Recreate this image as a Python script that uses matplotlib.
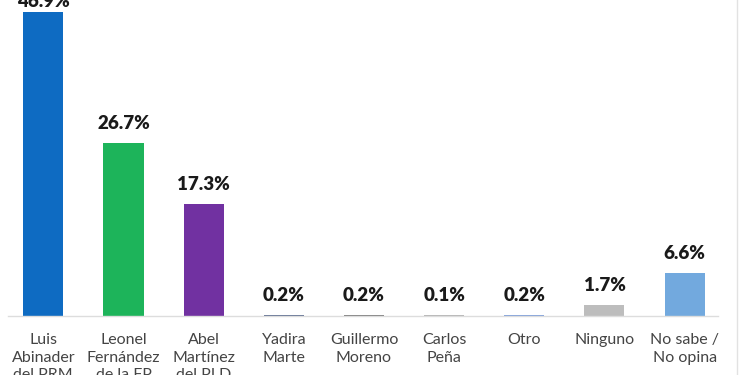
import matplotlib
matplotlib.use("Agg")
import matplotlib.pyplot as plt
from matplotlib.lines import Line2D

# Datos de la encuesta (%)
candidatos = [
    "Luis\nAbinader\ndel PRM",
    "Leonel\nFernández\nde la FP",
    "Abel\nMartínez\ndel PLD",
    "Yadira\nMarte",
    "Guillermo\nMoreno",
    "Carlos\nPeña",
    "Otro",
    "Ninguno",
    "No sabe /\nNo opina",
]
valores = [46.9, 26.7, 17.3, 0.2, 0.2, 0.1, 0.2, 1.7, 6.6]
colores = ["#0E6BC2", "#1DB45A", "#7131A1", "#5F6F92", "#7D7D7D",
           "#B3B3B3", "#7C9EDB", "#BDBDBD", "#72A9DE"]

plt.rcParams["font.family"] = ["Lato", "DejaVu Sans"]

fig = plt.figure(figsize=(7.5, 3.75), dpi=100)
ax = fig.add_axes([0.0107, 0.157, 0.947, 0.843])

x = list(range(len(valores)))
bars = ax.bar(x, valores, width=0.5, color=colores, zorder=2)

for xi, v in zip(x, valores):
    # la etiqueta del primer valor queda pegada al borde superior, como en el original
    off = 2 if xi == 0 else 8
    ax.annotate(f"{v}%", (xi, v), xytext=(0, off), textcoords="offset points",
                ha="center", va="bottom", fontsize=13.5, fontweight="heavy",
                color="#1a1a1a", annotation_clip=False, clip_on=False)

ax.set_xlim(-0.44, 8.42)
ax.set_ylim(0, 48.8)
ax.set_xticks(x)
ax.set_xticklabels(candidatos, fontsize=11.5, color="#444444", linespacing=1.35)
ax.tick_params(axis="x", length=0, pad=12)
ax.set_yticks([])
for s in ["top", "right", "left"]:
    ax.spines[s].set_visible(False)
ax.spines["bottom"].set_color("#DDDDDD")
ax.spines["bottom"].set_linewidth(1.0)

# borde derecho del recuadro
fig.add_artist(Line2D([0.983, 0.983], [0, 1], transform=fig.transFigure,
                      color="#E2E2E2", linewidth=1.0))

fig.savefig("out.png", dpi=100)
